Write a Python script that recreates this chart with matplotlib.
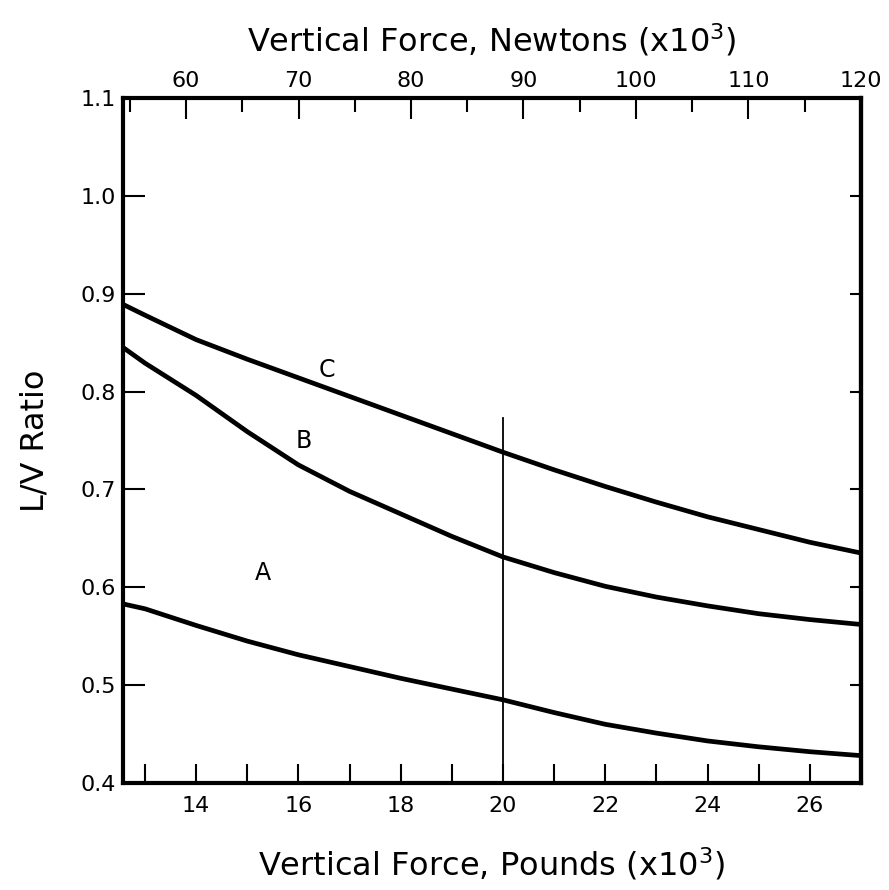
import matplotlib
matplotlib.use("Agg")
import matplotlib.pyplot as plt
from matplotlib.ticker import MultipleLocator, FixedLocator

# vertical force, pounds (x10^3)
force_lb = [12.57, 13, 14, 15, 16, 17, 18, 19, 20, 21, 22, 23, 24, 25, 26, 27]
curve_a = [0.583, 0.578, 0.561, 0.545, 0.531, 0.519, 0.507, 0.496, 0.485,
           0.472, 0.460, 0.451, 0.443, 0.437, 0.432, 0.428]
curve_b = [0.845, 0.829, 0.796, 0.759, 0.725, 0.698, 0.675, 0.652, 0.631,
           0.615, 0.601, 0.590, 0.581, 0.573, 0.567, 0.562]
curve_c = [0.889, 0.878, 0.853, 0.833, 0.814, 0.795, 0.776, 0.757, 0.738,
           0.720, 0.703, 0.687, 0.672, 0.659, 0.646, 0.635]

marker_x = 20
marker_top = 0.773

labels = ["A", "B", "C"]
label_pos = [(15.3, 0.615), (16.1, 0.749), (16.55, 0.822)]

fig = plt.figure(figsize=(8.89, 8.90), dpi=100)
ax = fig.add_axes([0.1384, 0.1202, 0.830, 0.7698])

for ys in (curve_a, curve_b, curve_c):
    ax.plot(force_lb, ys, color="black", lw=3.4, solid_joinstyle="round")
ax.plot([marker_x, marker_x], [0.4, marker_top], color="black", lw=1.3)

for txt, (x, y) in zip(labels, label_pos):
    ax.text(x, y, txt, fontsize=17, ha="center", va="center")

ax.set_xlim(12.57, 27.0)
ax.xaxis.set_major_locator(FixedLocator(range(14, 27, 2)))
ax.xaxis.set_minor_locator(FixedLocator(range(13, 27, 2)))
ax.yaxis.set_major_locator(MultipleLocator(0.1))
ax.set_ylim(0.4, 1.1)
ax.set_yticklabels([f"{v:.1f}" for v in ax.get_yticks()])
ax.set_ylim(0.4, 1.1)

ax.tick_params(axis="x", which="both", direction="in", length=14, width=1.5,
               labelsize=16, pad=9, top=False)
ax.tick_params(axis="y", which="both", direction="in", length=16, width=1.5,
               labelsize=16, right=False, pad=5)
for s in ax.spines.values():
    s.set_linewidth(3)

# shorter ticks on the right side
right = ax.secondary_yaxis("right")
right.yaxis.set_major_locator(MultipleLocator(0.1))
right.tick_params(direction="in", length=8, width=1.5, labelright=False)
right.spines["right"].set_linewidth(3)

ax.set_xlabel("Vertical Force, Pounds (x10$^3$)", fontsize=23, labelpad=22)
ax.set_ylabel("L/V Ratio", fontsize=23, labelpad=22)

top = ax.twiny()
top.set_xlim(54.4, 120)
top.xaxis.set_major_locator(MultipleLocator(10))
top.xaxis.set_minor_locator(MultipleLocator(5))
top.tick_params(axis="x", which="major", direction="in", length=15, width=1.5,
                labelsize=16, pad=5)
top.tick_params(axis="x", which="minor", direction="in", length=10, width=1.5)
top.set_xlabel("Vertical Force, Newtons (x10$^3$)", fontsize=23, labelpad=14)

fig.savefig("out.png", dpi=100)
